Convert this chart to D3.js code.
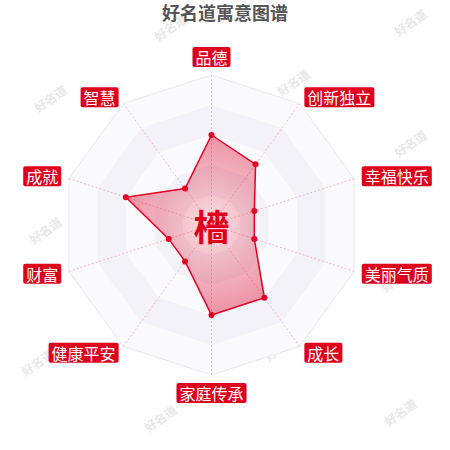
<!DOCTYPE html>
<html>
<head>
<meta charset="utf-8">
<script src="https://cdn.jsdelivr.net/npm/d3@7"></script>
<style>
  body { margin: 0; background: #fff; }
  svg { display: block; font-family: "Noto Sans CJK SC", "Noto Sans", sans-serif; }
</style>
</head>
<body>
<div id="chart"></div>
<script>
// radar data
var indicators = ["品德", "创新独立", "幸福快乐", "美丽气质", "成长", "家庭传承", "健康平安", "财富", "成就", "智慧"];
var values = [60, 50, 30, 30, 60, 60, 30, 30, 60, 30];
var maxValue = 100;
var levels = [20, 40, 60, 80, 100];
var title = "好名道寓意图谱";
var centerChar = "檣";
// background watermark spots
var marks = [[170, 27], [410, 22], [50, 98], [293, 82], [410, 143], [167, 155], [290, 217], [45, 230],
             [163, 288], [397, 278], [280, 347], [37, 362], [160, 418], [400, 412]];

var W = 450, H = 450;
var cx = 211.5, cy = 225, R = 150;

var svg = d3.select("#chart").append("svg")
    .attr("width", W)
    .attr("height", H);

// watermarks
svg.append("g").selectAll("text")
    .data(marks)
    .enter().append("text")
    .attr("transform", function (d) { return "translate(" + d[0] + "," + d[1] + ") rotate(-35)"; })
    .attr("text-anchor", "middle")
    .attr("dominant-baseline", "central")
    .style("font-size", "12px")
    .style("font-weight", "bold")
    .style("fill", "#e8e8e8")
    .text("好名道");

// title
svg.append("text")
    .attr("x", W / 2)
    .attr("y", 12)
    .attr("text-anchor", "middle")
    .attr("dominant-baseline", "central")
    .style("font-size", "18px")
    .style("font-weight", "bold")
    .style("fill", "#555")
    .text(title);

var r = d3.scaleLinear().domain([0, maxValue]).range([0, R]);
var angle = d3.scaleLinear().domain([0, indicators.length]).range([0, 2 * Math.PI]);

function px(i, v) { return cx + r(v) * Math.sin(angle(i)); }
function py(i, v) { return cy - r(v) * Math.cos(angle(i)); }

function ringPath(v) {
    return "M" + indicators.map(function (d, i) { return px(i, v) + "," + py(i, v); }).join("L") + "Z";
}

var g = svg.append("g");

// split areas, outer first
var bandColors = ["#f2f2f8", "#fbfbfd"];
levels.slice().reverse().forEach(function (lv, k) {
    g.append("path")
        .attr("d", ringPath(lv))
        .attr("fill", bandColors[(k + 1) % 2])
        .attr("stroke", k == 0 ? "#e8e8f0" : "none")
        .attr("stroke-width", 1);
});

// spokes
g.selectAll(".spoke")
    .data(indicators)
    .enter().append("line")
    .attr("class", "spoke")
    .attr("x1", cx)
    .attr("y1", cy)
    .attr("x2", function (d, i) { return px(i, maxValue); })
    .attr("y2", function (d, i) { return py(i, maxValue); })
    .attr("stroke", "#f2a9b2")
    .attr("stroke-width", 0.8)
    .attr("stroke-dasharray", "2,2");

// series fill gradient
var defs = svg.append("defs");
var grad = defs.append("radialGradient")
    .attr("id", "fillGrad")
    .attr("gradientUnits", "userSpaceOnUse")
    .attr("cx", cx).attr("cy", cy).attr("r", r(60));
grad.append("stop").attr("offset", "0%").attr("stop-color", "#e6001e").attr("stop-opacity", 0.12);
grad.append("stop").attr("offset", "100%").attr("stop-color", "#d8002a").attr("stop-opacity", 0.42);

var line = d3.line()
    .x(function (d, i) { return px(i, d); })
    .y(function (d, i) { return py(i, d); })
    .curve(d3.curveLinearClosed);

g.append("path")
    .attr("d", line(values))
    .attr("fill", "url(#fillGrad)")
    .attr("stroke", "#e60023")
    .attr("stroke-width", 1.5);

g.selectAll(".dot")
    .data(values)
    .enter().append("circle")
    .attr("class", "dot")
    .attr("cx", function (d, i) { return px(i, d); })
    .attr("cy", function (d, i) { return py(i, d); })
    .attr("r", 3)
    .attr("fill", "#e60023");

// center character
svg.append("text")
    .attr("x", cx)
    .attr("y", cy)
    .attr("text-anchor", "middle")
    .attr("dominant-baseline", "central")
    .style("font-size", "36px")
    .style("font-weight", "bold")
    .style("fill", "#e0001b")
    .text(centerChar);

// axis name labels
var labelR = R + 8;
indicators.forEach(function (name, i) {
    var s = Math.sin(angle(i)), c = Math.cos(angle(i));
    var ax = cx + labelR * s, ay = cy - labelR * c;
    var lg = svg.append("g");
    var t = lg.append("text")
        .attr("dominant-baseline", "central")
        .style("font-size", "16px")
        .style("fill", "#fff")
        .text(name);
    var bw = t.node().getComputedTextLength() + 6, bh = 20;
    var bx, by;
    if (Math.abs(s) < 0.01) bx = ax - bw / 2;
    else if (s > 0) bx = ax;
    else bx = ax - bw;
    if (Math.abs(s) < 0.01 && c > 0) by = ay - bh;
    else if (Math.abs(s) < 0.01 && c < 0) by = ay;
    else by = ay - bh / 2;
    lg.insert("rect", "text")
        .attr("x", bx).attr("y", by)
        .attr("width", bw).attr("height", bh)
        .attr("rx", 2)
        .attr("fill", "#e0001b");
    t.attr("x", bx + 3).attr("y", by + bh / 2);
});
</script>
</body>
</html>
